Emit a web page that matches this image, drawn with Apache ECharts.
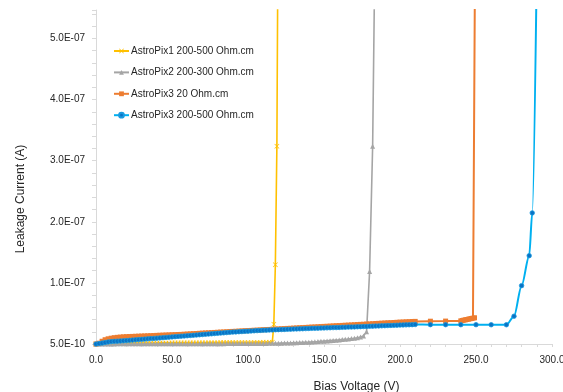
<!DOCTYPE html>
<html>
<head>
<meta charset="utf-8">
<script src="https://cdn.jsdelivr.net/npm/echarts@6/dist/echarts.min.js"></script>
<style>
  html, body { margin: 0; padding: 0; background: #fff; }
  #chart { width: 563px; height: 392px; }
</style>
</head>
<body>
<div id="chart"></div>
<script>
// Leakage current (nA) versus bias voltage (V) for each sensor.

const seriesNames = [
  'AstroPix1 200-500 Ohm.cm',
  'AstroPix2 200-300 Ohm.cm',
  'AstroPix3 20 Ohm.cm',
  'AstroPix3 200-500 Ohm.cm'
];

const xTicks = [0, 50, 100, 150, 200, 250, 300];
const yTicksNA = [0.5, 100, 200, 300, 400, 500];

// AstroPix1 200-500 Ohm.cm
const pix1V = [0,2,4,6,8,10,12,14,16,18,20,22,24,26,28,30,32,34,36,38,40,
  42,44,46,48,50,52,54,56,58,60,62,64,66,68,70,72,74,76,78,80,
  82,84,86,88,90,92,94,96,98,100,102,104,106,108,110,112,114,116,117,118,119,120];
const pix1I = [0.5,1.0,1.3,1.5,1.6,1.7,1.8,1.8,1.9,1.9,2.0,
  2.0,2.0,2.1,2.1,2.1,2.1,2.2,2.2,2.2,2.2,
  2.3,2.3,2.3,2.3,2.4,2.4,2.4,2.4,2.5,2.5,
  2.5,2.5,2.6,2.6,2.6,2.6,2.7,2.7,2.7,2.7,
  2.8,2.8,2.8,2.8,2.9,2.9,2.9,2.9,3.0,3.0,
  3.0,3.1,3.1,3.1,3.2,3.2,3.3,3.4,33,130,324,800];

// AstroPix2 200-300 Ohm.cm
const pix2V = [0,2,4,6,8,10,12,14,16,18,20,22,24,26,28,30,32,34,36,38,40,
  42,44,46,48,50,52,54,56,58,60,62,64,66,68,70,72,74,76,78,80,
  82,84,86,88,90,92,94,96,98,100,102,104,106,108,110,112,114,116,118,120,
  122,124,126,128,130,132,134,136,138,140,142,144,146,148,150,152,154,156,158,160,
  162,164,166,168,170,172,174,176,178,180,182,184];
const pix2I = [0.5,0.6,0.6,0.7,0.7,0.7,0.7,0.8,0.8,0.8,0.8,
  0.8,0.8,0.8,0.9,0.9,0.9,0.9,0.9,0.9,0.9,
  0.9,0.9,0.9,1.0,1.0,1.0,1.0,1.0,1.0,1.0,
  1.0,1.0,1.0,1.0,1.1,1.1,1.1,1.1,1.1,1.1,
  1.1,1.1,1.2,1.2,1.2,1.2,1.2,1.3,1.3,1.3,
  1.3,1.4,1.4,1.4,1.5,1.5,1.6,1.6,1.7,1.8,
  1.9,2.0,2.2,2.3,2.5,2.7,2.9,3.1,3.3,3.5,
  3.8,4.1,4.4,4.8,5.2,5.6,6.0,6.4,6.8,7.2,
  7.7,8.2,8.7,9.3,10.0,10.8,11.8,13.5,20.7,119,324,750];

// AstroPix3 20 Ohm.cm
const pix3aV = [0,2,4,6,8,10,12,14,16,18,20,22,24,26,28,30,32,34,36,38,40,
  42,44,46,48,50,52,54,56,58,60,62,64,66,68,70,72,74,76,78,80,
  82,84,86,88,90,92,94,96,98,100,102,104,106,108,110,112,114,116,118,120,
  122,124,126,128,130,132,134,136,138,140,142,144,146,148,150,152,154,156,158,160,
  162,164,166,168,170,172,174,176,178,180,182,184,186,188,190,192,194,196,198,200,
  202,204,206,208,210,220,230,240,241,242,243,244,245,246,247,248,249,250];
const pix3aI = [0.5,1.8,5.0,7.5,9.0,10.0,10.8,11.4,11.8,12.2,12.5,
  12.7,12.9,13.1,13.3,13.5,13.7,13.9,14.1,14.3,14.6,
  14.8,15.0,15.2,15.4,15.6,15.8,16.0,16.2,16.5,16.8,
  17.1,17.4,17.7,18.0,18.3,18.6,18.8,19.1,19.4,19.7,
  20.0,20.2,20.5,20.8,21.1,21.3,21.6,21.9,22.2,22.4,
  22.7,23.0,23.2,23.5,23.8,24.1,24.3,24.6,24.9,25.1,
  25.4,25.7,26.0,26.2,26.5,26.8,27.1,27.3,27.6,27.9,
  28.2,28.4,28.7,29.0,29.3,29.5,29.8,30.1,30.4,30.6,
  30.9,31.2,31.4,31.7,32.0,32.3,32.6,32.8,33.1,33.4,
  33.7,34.0,34.3,34.6,34.9,35.2,35.4,35.7,36.0,36.3,
  36.5,36.8,37.0,37.3,37.5,37.8,38.0,38.3,38.9,39.5,40.0,40.6,41.1,41.7,42.2,42.8,43.4,900];

// AstroPix3 200-500 Ohm.cm
const pix3bV = [0,2,4,6,8,10,12,14,16,18,20,22,24,26,28,30,32,34,36,38,40,
  42,44,46,48,50,52,54,56,58,60,62,64,66,68,70,72,74,76,78,80,
  82,84,86,88,90,92,94,96,98,100,102,104,106,108,110,112,114,116,118,120,
  122,124,126,128,130,132,134,136,138,140,142,144,146,148,150,152,154,156,158,160,
  162,164,166,168,170,172,174,176,178,180,182,184,186,188,190,192,194,196,198,200,
  202,204,206,208,210,220,230,240,250,260,270,275,280,285,287,290];
const pix3bI = [0.5,1.2,2.0,3.0,3.9,4.5,4.9,5.2,5.5,5.8,6.1,
  6.5,6.9,7.3,7.7,8.1,8.5,8.9,9.3,9.7,10.1,
  10.5,10.9,11.3,11.7,12.1,12.5,12.9,13.3,13.6,14.0,
  14.4,14.8,15.2,15.6,16.0,16.4,16.8,17.2,17.6,18.0,
  18.4,18.8,19.2,19.6,20.0,20.3,20.6,20.9,21.2,21.5,
  21.8,22.1,22.4,22.7,23.0,23.2,23.4,23.6,23.8,24.0,
  24.2,24.4,24.6,24.8,25.0,25.2,25.3,25.5,25.7,25.9,
  26.1,26.2,26.4,26.6,26.8,26.9,27.1,27.3,27.4,27.6,
  27.8,28.0,28.2,28.3,28.5,28.7,28.9,29.1,29.3,29.5,
  29.7,29.9,30.1,30.3,30.5,30.7,30.9,31.1,31.3,31.5,
  31.7,31.8,32.0,32.2,32.4,32.2,32.1,32.1,32.1,32.0,32.0,46,96,145,215,620];

const FONT = '"Liberation Sans", Arial, sans-serif';
const TEXT = '#262626';
const AXIS = '#D9D9D9';

const pairs = (vs, is) => vs.map((v, i) => [v, is[i]]);

// nA value -> ampere string like 1.0E-07
function sciLabel(vNA) {
  const a = vNA * 1e-9;
  let e = Math.floor(Math.log10(a));
  let m = a / Math.pow(10, e);
  if (Number(m.toFixed(1)) >= 10) { m /= 10; e += 1; }
  return m.toFixed(1) + 'E' + (e < 0 ? '-' : '+') + String(Math.abs(e)).padStart(2, '0');
}

const crossSymbol = 'path://M0,1L1,0L5,4L9,0L10,1L6,5L10,9L9,10L5,6L1,10L0,9L4,5Z';

const chart = echarts.init(document.getElementById('chart'), null, { renderer: 'canvas' });

chart.setOption({
  animation: false,
  backgroundColor: '#ffffff',
  textStyle: { fontFamily: FONT },
  grid: { left: 96, right: 11, top: 10, bottom: 48, containLabel: false, outerBoundsMode: 'none' },
  legend: {
    orient: 'vertical',
    left: 108,
    top: 40,
    itemWidth: 15,
    itemHeight: 6,
    itemGap: 9.4,
    data: seriesNames,
    textStyle: { fontFamily: FONT, fontSize: 10, color: TEXT, lineHeight: 12, padding: [0, 0, 0, -3] }
  },
  xAxis: {
    type: 'value',
    min: xTicks[0],
    max: xTicks[xTicks.length - 1],
    interval: 50,
    name: 'Bias Voltage (V)',
    nameLocation: 'middle',
    nameGap: 37,
    nameTextStyle: { fontFamily: FONT, fontSize: 12, color: TEXT, padding: [0, 0, 0, 65] },
    axisLine: { show: true, onZero: false, lineStyle: { color: AXIS, width: 1 } },
    axisTick: { show: true, inside: false, length: 3, lineStyle: { color: AXIS } },
    minorTick: { show: true, splitNumber: 5, length: 3, lineStyle: { color: AXIS } },
    splitLine: { show: false },
    axisLabel: {
      margin: 11, fontFamily: FONT, fontSize: 10, color: TEXT,
      formatter: v => v.toFixed(1)
    }
  },
  yAxis: {
    type: 'value',
    min: yTicksNA[0],
    max: 547,
    interval: 100,
    name: 'Leakage Current (A)',
    nameLocation: 'middle',
    nameGap: 69,
    nameTextStyle: { fontFamily: FONT, fontSize: 12, color: TEXT, padding: [0, 44, 0, 0] },
    axisLine: { show: true, lineStyle: { color: AXIS, width: 1 } },
    axisTick: { show: true, inside: false, length: 4, lineStyle: { color: AXIS } },
    minorTick: { show: true, splitNumber: 5, length: 4, lineStyle: { color: AXIS } },
    splitLine: { show: false },
    axisLabel: {
      margin: 11, fontFamily: FONT, fontSize: 10, color: TEXT,
      showMaxLabel: false,
      formatter: v => (v > 540 ? '' : sciLabel(v))
    }
  },
  series: [
    {
      name: seriesNames[0], type: 'line',
      data: pairs(pix1V, pix1I),
      symbol: crossSymbol, symbolSize: 5,
      lineStyle: { color: '#FFC000', width: 1.6 },
      itemStyle: { color: '#FFC000' },
      clip: true
    },
    {
      name: seriesNames[1], type: 'line',
      data: pairs(pix2V, pix2I),
      symbol: 'triangle', symbolSize: 5,
      lineStyle: { color: '#A5A5A5', width: 1.6 },
      itemStyle: { color: '#A5A5A5' },
      clip: true
    },
    {
      name: seriesNames[2], type: 'line',
      data: pairs(pix3aV, pix3aI),
      symbol: 'rect', symbolSize: 5,
      lineStyle: { color: '#ED7D31', width: 2 },
      itemStyle: { color: '#ED7D31' },
      clip: true
    },
    {
      name: seriesNames[3], type: 'line',
      data: pairs(pix3bV, pix3bI),
      symbol: 'circle', symbolSize: 4.5,
      smooth: 0.3, smoothMonotone: 'x',
      lineStyle: { color: '#00B0F0', width: 2 },
      itemStyle: { color: '#0A72C4', borderColor: '#1A9AE0', borderWidth: 0.8 },
      clip: true
    }
  ]
});
</script>
</body>
</html>
